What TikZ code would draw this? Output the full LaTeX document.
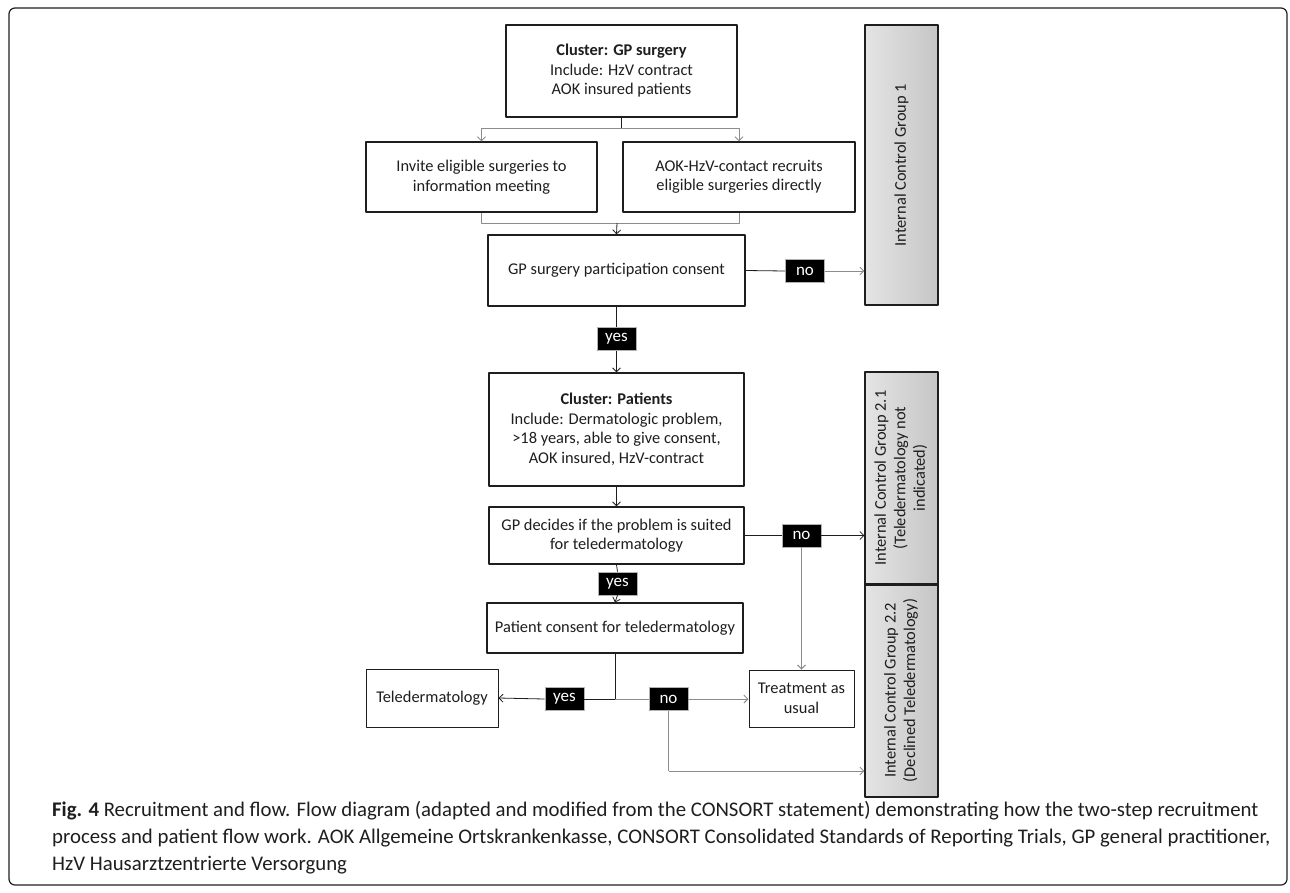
\documentclass[tikz,border=0pt]{standalone}
\usepackage{fontspec}
\setmainfont{Carlito}
\usetikzlibrary{arrows.meta}
\definecolor{ctrlL}{HTML}{E4E4E4}
\definecolor{ctrlR}{HTML}{C6C6C6}
\definecolor{wire}{HTML}{8C8C8C}
\definecolor{ink}{HTML}{1E1E1E}
\begin{document}
\begin{tikzpicture}[x=1pt, y=-1pt, font=\fontsize{16.4}{19.5}\selectfont, line join=round,
	>={Straight Barb[length=4pt,width=8pt]},
	box/.style={draw=ink, line width=1.3pt, fill=white, align=center, inner sep=2pt, text=ink},
	ctrl/.style={draw=ink, line width=1.1pt, left color=ctrlL, right color=ctrlR, text=ink, minimum width=73, inner sep=0pt},
	tag/.style={fill=black, draw=gray!60, line width=0.6pt, text=white, minimum width=39, minimum height=23, inner sep=0pt,
		font=\fontsize{17}{19.5}\selectfont},
	dark/.style={draw=ink, line width=0.8pt},
	pale/.style={draw=wire, line width=0.9pt}]
	\useasboundingbox (0,0) rectangle (1290,892);
	\draw[ink, line width=1.2pt, rounded corners=6pt] (9,8) rectangle (1287,885);
	% flow boxes
	\node[box, minimum width=231, minimum height=92] (gp) at (621.5,71)
		{\textbf{Cluster: GP surgery}\\Include: HzV contract\\AOK insured patients};
	\node[box, minimum width=231, minimum height=70] (inv) at (481.5,177)
		{Invite eligible surgeries to\\information meeting};
	\node[box, minimum width=232, minimum height=70] (aok) at (739,177)
		{AOK-HzV-contact recruits\\eligible surgeries directly};
	\node[box, minimum width=257, minimum height=71] (cons) at (616.5,270.5)
		{GP surgery participation consent};
	\node[box, minimum width=255, minimum height=113] (pat) at (616.5,429.5)
		{\textbf{Cluster: Patients}\\Include: Dermatologic problem,\\>18 years, able to give consent,\\AOK insured, HzV-contract};
	\node[box, minimum width=255, minimum height=57] (dec) at (616.5,535.5)
		{GP decides if the problem is suited\\for teledermatology};
	\node[box, minimum width=256, minimum height=50] (pcons) at (615,628)
		{Patient consent for teledermatology};
	\node[box, line width=1pt, minimum width=132, minimum height=58] (tele) at (432,698)
		{Teledermatology};
	\node[box, line width=1pt, minimum width=105, minimum height=57] (treat) at (801.5,698.5)
		{Treatment as\\usual};
	% control groups
	\node[ctrl, minimum height=280] (icg1) at (901.5,165)
		{\rotatebox{90}{Internal Control Group 1}};
	\node[ctrl, minimum height=212] (icg21) at (901.5,478)
		{\rotatebox{90}{\begin{tabular}{@{}c@{}}Internal Control Group 2.1\\(Teledermatology not\\indicated)\end{tabular}}};
	\node[ctrl, minimum height=213] (icg22) at (901.5,690.5)
		{\rotatebox{90}{\begin{tabular}{@{}c@{}}Internal Control Group 2.2\\(Declined Teledermatology)\end{tabular}}};
	\draw[ink, line width=2pt] (icg21.south west) -- (icg21.south east);
	% yes / no tags
	\foreach \n/\p/\t in {no1/{805,271}/no, yes1/{616.5,339}/yes, no2/{801.5,535.5}/no,
		yes2/{617.5,583.5}/yes, yes3/{564.5,699}/yes, no3/{668.5,699}/no}
	\node[tag] (\n) at (\p) {\t};
	% connectors
	\coordinate (split) at (621.5,128);
	\coordinate (merge) at (617,223);
	\coordinate (fork) at (615,699);
	\coordinate (low) at (668.5,771);
	\draw[dark] (gp.south) -- (split);
	\draw[pale,->] (split) -| (inv.north);
	\draw[pale,->] (split) -| (aok.north);
	\draw[pale] (inv.south) |- (merge);
	\draw[pale] (aok.south) |- (merge);
	\draw[dark,->] (merge) -- (cons.north);
	\draw[dark] (cons.east) -- (no1.west);
	\draw[pale,->] (no1.east) -- (icg1.west |- no1.east);
	\draw[dark] (cons.south) -- (yes1.north);
	\draw[dark,->] (yes1.south) -- (pat.north);
	\draw[dark,->] (pat.south) -- (dec.north);
	\draw[dark] (dec.east) -- (no2.west);
	\draw[dark,->] (no2.east) -- (icg21.west |- no2.east);
	\draw[pale,->] (no2.south) -- (treat.north);
	\draw[dark] (dec.south) -- (yes2.north);
	\draw[dark,->] (yes2.south) -- (pcons.north);
	\draw[dark] (pcons.south) -- (fork);
	\draw[dark] (fork) -- (yes3.east);
	\draw[dark,->] (yes3.west) -- (tele.east);
	\draw[pale] (fork) -- (no3.west);
	\draw[pale,->] (no3.east) -- (treat.west |- no3.east);
	\draw[pale] (no3.south) -- (low);
	\draw[pale,->] (low) -- (icg22.west |- low);
	% caption
	\node[anchor=north west, align=left, text=ink, inner sep=0pt,
		font=\fontsize{20.8}{26.8}\selectfont] (cap) at (52,801)
		{\textbf{Fig. 4} Recruitment and flow. Flow diagram (adapted and modified from the CONSORT statement) demonstrating how the two-step recruitment\\
		process and patient flow work. AOK Allgemeine Ortskrankenkasse, CONSORT Consolidated Standards of Reporting Trials, GP general practitioner,\\
		HzV Hausarztzentrierte Versorgung};
\end{tikzpicture}
\end{document}
